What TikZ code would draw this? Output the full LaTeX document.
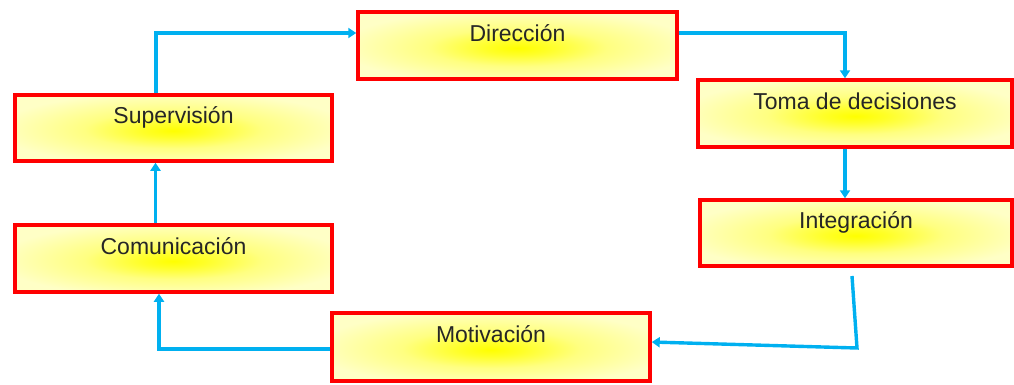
\documentclass[tikz,border=0pt]{standalone}
\usepackage{fontspec}
\setmainfont{Liberation Sans}
\usetikzlibrary{arrows.meta}
\definecolor{lyel}{HTML}{FFFFC6}
\definecolor{arrblue}{HTML}{00B0F0}
\definecolor{boxred}{HTML}{FF0000}
\pgfdeclareradialshading{glow}{\pgfpoint{0bp}{-2bp}}{color(0bp)=(yellow); color(5bp)=(yellow!80!lyel); color(14bp)=(yellow!35!lyel); color(28bp)=(lyel); color(50bp)=(lyel)}
\tikzset{
  box/.style={draw=boxred, line width=3.5pt, shading=glow, rectangle,
    inner sep=0pt, text depth=25pt, text height=16pt,
    font=\fontsize{23}{26}\selectfont, text=black!85},
  arr/.style={draw=arrblue, line width=3.4pt, -{Triangle[width=10pt,length=8pt]}}
}
\begin{document}
\begin{tikzpicture}[x=1pt,y=-1pt]
\useasboundingbox (0,0) rectangle (1014,384);
\node[box, minimum width=319pt, minimum height=67pt] (dir) at (517.5,45.5) {Dirección};
\node[box, minimum width=314pt, minimum height=67pt] (toma) at (855,113.5) {Toma de decisiones};
\node[box, minimum width=312pt, minimum height=66pt] (integ) at (856,233) {Integración};
\node[box, minimum width=317pt, minimum height=66pt] (sup) at (173.5,128) {Supervisión};
\node[box, minimum width=317pt, minimum height=67pt] (com) at (173.5,258.5) {Comunicación};
\node[box, minimum width=318pt, minimum height=68pt] (mot) at (491,347) {Motivación};
% connectors
\draw[arr] ([xshift=-17.5pt]sup.north) |- ([yshift=12.5pt]dir.west);
\draw[arr] ([yshift=12.5pt]dir.east) -| ([xshift=-10pt]toma.north);
\draw[arr] ([xshift=-10pt]toma.south) -- ([xshift=-10pt]toma.south |- integ.north);
\coordinate (i0) at (852,276);
\coordinate (i1) at (857,348);
\draw[arr, line join=miter] (i0) -- (i1) -- ([yshift=5pt]mot.east);
\draw[arr] ([yshift=-2pt]mot.west) -| ([xshift=-14.5pt]com.south);
\draw[arr] ([xshift=-18pt]com.north) -- ([xshift=-18pt]com.north |- sup.south);
\end{tikzpicture}
\end{document}
